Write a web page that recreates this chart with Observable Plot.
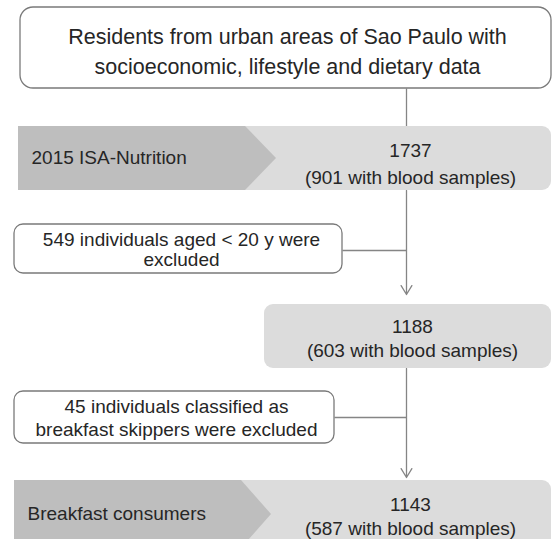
<!DOCTYPE html>
<html>
<head>
<meta charset="utf-8">
<script src="https://cdn.jsdelivr.net/npm/d3@7"></script>
<script src="https://cdn.jsdelivr.net/npm/@observablehq/plot@0.6"></script>
<style>
  html, body { margin: 0; padding: 0; background: #fff; overflow: hidden; }
  #chart svg { display: block; overflow: hidden; }
</style>
</head>
<body>
<div id="chart"></div>
<script>
// ---- data ----
const sourceText = "Residents from urban areas of Sao Paulo with\nsocioeconomic, lifestyle and dietary data";
const stageNames = ["2015 ISA-Nutrition", "", "Breakfast consumers"];
const stageTotals = [1737, 1188, 1143];
const stageBlood = [901, 603, 587];
const excludedCounts = [549, 45];
const excludedReasons = ["individuals aged < 20 y were\nexcluded", "individuals classified as\nbreakfast skippers were excluded"];

// ---- layout (pixel space) ----
const W = 552, H = 539;
const spineX = 406;
const topBox = {x1: 20, x2: 551, y1: 7, y2: 88, tx: 287, ty: 49, lh: 1.4, fs: 21.5};
const stageBoxes = [
  {x1: 18, x2: 551, y1: 126, y2: 190, chev: 245, tip: 276, tx: 410, ty: 161, lh: 1.42},
  {x1: 264, x2: 551, y1: 304, y2: 368, chev: null, tx: 412, ty: 337, lh: 1.26},
  {x1: 14, x2: 551, y1: 480, y2: 548, chev: 241, tip: 271, tx: 410, ty: 515, lh: 1.26}
];
const exclBoxes = [
  {x1: 14, x2: 342, y1: 224, y2: 273, tx: 181, ty: 249, cy: 250, lh: 1.08},
  {x1: 14, x2: 334, y1: 391, y2: 443, tx: 176, ty: 417, cy: 417, lh: 1.2}
];

const textColor = "#262626";
const lineColor = "#858585";
const darkFill = "#bebebe";
const lightFill = "#dcdcdc";
const font = "'Liberation Sans', Arial, Helvetica, sans-serif";

const stageRows = stageTotals.map((t, i) => ({
  ...stageBoxes[i],
  name: stageNames[i],
  label: `${t}\n(${stageBlood[i]} with blood samples)`
}));
const exclRows = excludedCounts.map((n, i) => ({...exclBoxes[i], label: `${n} ${excludedReasons[i]}`}));

const chevrons = stageRows.filter(d => d.chev != null).map(d => [
  {y: d.y1, x1: d.x1, x2: d.chev},
  {y: (d.y1 + d.y2) / 2, x1: d.x1, x2: d.tip},
  {y: d.y2, x1: d.x1, x2: d.chev}
]);

const links = [
  {x1: spineX, y1: topBox.y2, x2: spineX, y2: stageBoxes[0].y1},
  ...exclRows.map(d => ({x1: d.x2, y1: d.cy, x2: spineX, y2: d.cy}))
];
const arrows = [
  {x1: spineX, y1: stageBoxes[0].y2, x2: spineX, y2: stageBoxes[1].y1 - 10},
  {x1: spineX, y1: stageBoxes[1].y2, x2: spineX, y2: stageBoxes[2].y1 - 3}
];

const marks = [
  Plot.link(links, {x1: "x1", y1: "y1", x2: "x2", y2: "y2", stroke: lineColor, strokeWidth: 1.3}),
  Plot.arrow(arrows, {x1: "x1", y1: "y1", x2: "x2", y2: "y2", stroke: lineColor, strokeWidth: 1.3, headLength: 12, headAngle: 62}),
  Plot.rect([topBox], {x1: "x1", x2: "x2", y1: "y1", y2: "y2", rx: 13, fill: "white", stroke: "#7a7a7a", strokeWidth: 1.3}),
  Plot.text([topBox], {x: "tx", y: "ty", text: () => sourceText, fontSize: topBox.fs, lineHeight: topBox.lh, fill: textColor}),
  Plot.rect(stageRows, {x1: "x1", x2: "x2", y1: "y1", y2: "y2", rx: 9, fill: lightFill}),
  ...chevrons.map(c => Plot.areaX(c, {y: "y", x1: "x1", x2: "x2", fill: darkFill, curve: "linear"})),
  ...stageRows.map(d => Plot.text([d], {x: "tx", y: "ty", text: "label", fontSize: 19, lineHeight: d.lh, fill: textColor})),
  Plot.text(stageRows.filter(d => d.name), {x: d => d.x1 + 13, y: d => (d.y1 + d.y2) / 2 - 1, text: "name", textAnchor: "start", fontSize: 19, fill: textColor}),
  Plot.rect(exclRows, {x1: "x1", x2: "x2", y1: "y1", y2: "y2", rx: 9, fill: "white", stroke: "#7a7a7a", strokeWidth: 1.3}),
  ...exclRows.map(d => Plot.text([d], {x: "tx", y: "ty", text: "label", fontSize: 19, lineHeight: d.lh, fill: textColor}))
];

const chart = Plot.plot({
  width: W,
  height: H,
  margin: 0,
  x: {domain: [0, W], range: [0, W], axis: null},
  y: {domain: [0, H], range: [0, H], axis: null},
  style: {fontFamily: font, fontSize: "19px", background: "white", color: textColor},
  marks
});
document.getElementById("chart").appendChild(chart);
</script>
</body>
</html>
